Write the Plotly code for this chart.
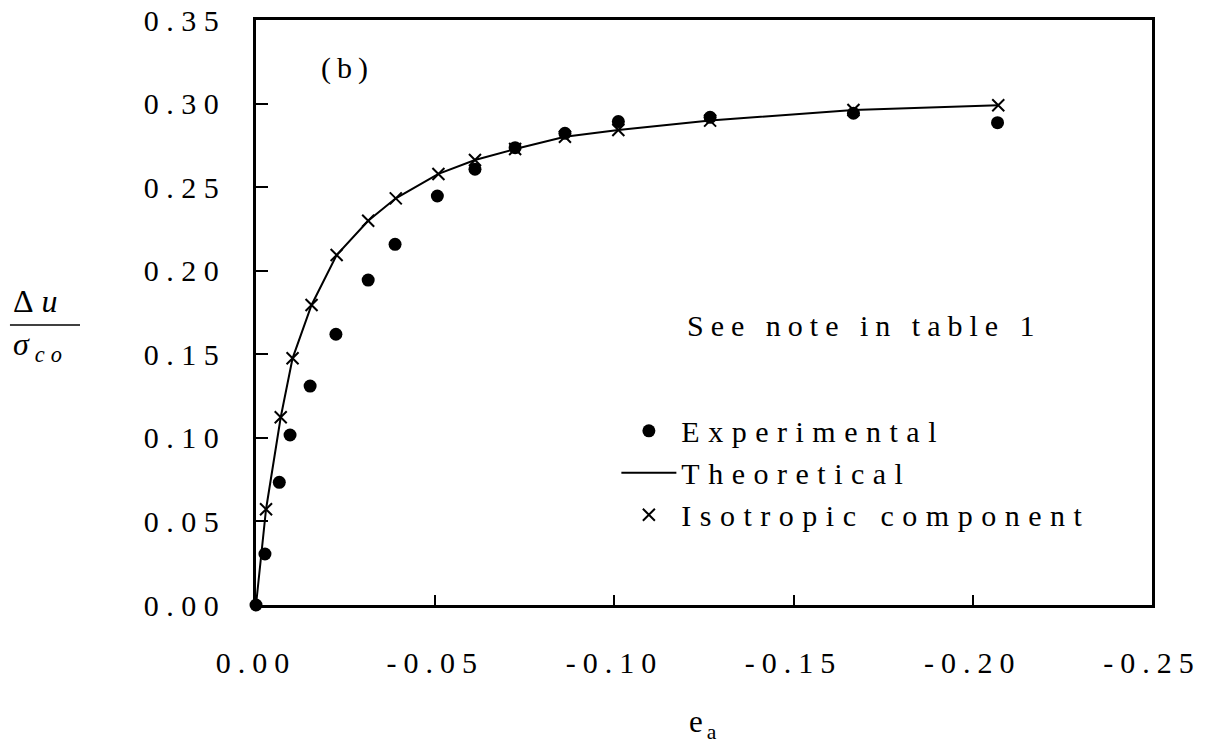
import plotly.graph_objects as go

# ---- data ----
exp_x = [0.0, -0.0025, -0.0065, -0.0095, -0.0151, -0.0223, -0.0313, -0.0388, -0.0506,
         -0.0611, -0.0723, -0.0862, -0.1011, -0.1267, -0.1667, -0.2069]
exp_y = [0.0, 0.0305, 0.0734, 0.1017, 0.1310, 0.1620, 0.1944, 0.2158, 0.2447,
         0.2607, 0.2736, 0.2822, 0.2892, 0.2918, 0.2942, 0.2886]

iso_x = [-0.0028, -0.0069, -0.0102, -0.0155, -0.0225, -0.0313, -0.0390, -0.0509,
         -0.0611, -0.0723, -0.0862, -0.1011, -0.1267, -0.1667, -0.2071]
iso_y = [0.0573, 0.1123, 0.1476, 0.1795, 0.2094, 0.2299, 0.2433, 0.2579,
         0.2662, 0.2728, 0.2802, 0.2842, 0.2898, 0.2962, 0.2990]

theo_x = [0.0, -0.0028, -0.0069, -0.0102, -0.0155, -0.0225, -0.0313, -0.0390, -0.0509,
          -0.0611, -0.0723, -0.0862, -0.1011, -0.1267, -0.1667, -0.2071]
theo_y = [0.0, 0.0573, 0.1123, 0.1476, 0.1795, 0.2094, 0.2299, 0.2433, 0.2579,
          0.2662, 0.2728, 0.2802, 0.2842, 0.2898, 0.2962, 0.2990]

x_ticks = [0.0, -0.05, -0.10, -0.15, -0.20, -0.25]
x_tick_labels = ["0.00", "-0.05", "-0.10", "-0.15", "-0.20", "-0.25"]
y_ticks = [0.0, 0.05, 0.10, 0.15, 0.20, 0.25, 0.30, 0.35]
y_tick_labels = ["0.00", "0.05", "0.10", "0.15", "0.20", "0.25", "0.30", "0.35"]

series_names = ["Experimental", "Theoretical", "Isotropic component"]

FONT = "Liberation Serif, Times New Roman, serif"
FS = 30


def sp(t, ls):
    return f"<span style='letter-spacing:{ls}px'>{t}</span>"


fig = go.Figure()
fig.add_trace(go.Scatter(
    x=exp_x, y=exp_y, mode="markers", name=sp(series_names[0], 8.5), legendgroup="a",
    marker=dict(symbol="circle", size=13, color="black"), cliponaxis=False))
fig.add_trace(go.Scatter(
    x=theo_x, y=theo_y, mode="lines", name=sp(series_names[1], 8.5), legendgroup="b",
    line=dict(color="black", width=2)))
fig.add_trace(go.Scatter(
    x=iso_x, y=iso_y, mode="markers", name=sp(series_names[2], 8.5), legendgroup="c",
    marker=dict(symbol="x-thin", size=12, color="black",
                line=dict(color="black", width=2))))

axis_common = dict(
    showline=True, linecolor="black", linewidth=2.5, mirror=True,
    ticks="inside", tickcolor="black", tickwidth=1.5,
    showgrid=False, zeroline=False, ticklabeloverflow="allow", automargin=False,
    tickfont=dict(family=FONT, size=FS, color="black"),
)

fig.update_xaxes(range=[0, -0.25], tickvals=x_ticks,
                 ticktext=[sp(t, 7) for t in x_tick_labels], ticklen=10,
                 ticklabelstandoff=29, **axis_common)
fig.update_yaxes(range=[0, 0.35], tickvals=y_ticks,
                 ticktext=[sp(t, 7.5) for t in y_tick_labels], ticklen=12,
                 ticklabelstandoff=21, **axis_common)

annots = [
    dict(x=0.1016, y=0.918, text=sp("(b)", 6), xanchor="center", yanchor="middle", size=FS),
    dict(x=0.479, y=0.4786, text=sp("See note in table 1", 7), xanchor="left", yanchor="middle", size=FS),
    dict(x=0.50, y=-0.2030, text=sp("e<sub>a</sub>", 4), xanchor="center", yanchor="middle", size=31),
    dict(x=-0.2420, y=0.520, text=sp("Δ<i>u</i>", 8), xanchor="center", yanchor="middle", size=32),
    dict(x=-0.2400, y=0.442, text=sp("<i>σ</i><sub><i>co</i></sub>", 6), xanchor="center", yanchor="middle", size=32),
]
for a in annots:
    s = a.pop("size")
    fig.add_annotation(xref="paper", yref="paper", showarrow=False,
                       font=dict(family=FONT, size=s, color="black"), **a)

fig.add_shape(type="line", xref="paper", yref="paper",
              x0=-0.2746, x1=-0.1964, y0=0.4786, y1=0.4786,
              line=dict(color="black", width=1.5))

# the page body adds an 8px margin, so the figure is shrunk by 8px at left/top
fig.update_layout(
    width=1198, height=737,
    margin=dict(l=248, r=54, t=12, b=140, autoexpand=False),
    paper_bgcolor="white", plot_bgcolor="white",
    showlegend=True,
    legend=dict(x=0.4022, y=0.226, xanchor="left", yanchor="middle",
                bgcolor="rgba(0,0,0,0)", font=dict(family=FONT, size=FS, color="black"),
                tracegroupgap=10, itemwidth=55, traceorder="normal"),
)

fig.write_html("out.html")
